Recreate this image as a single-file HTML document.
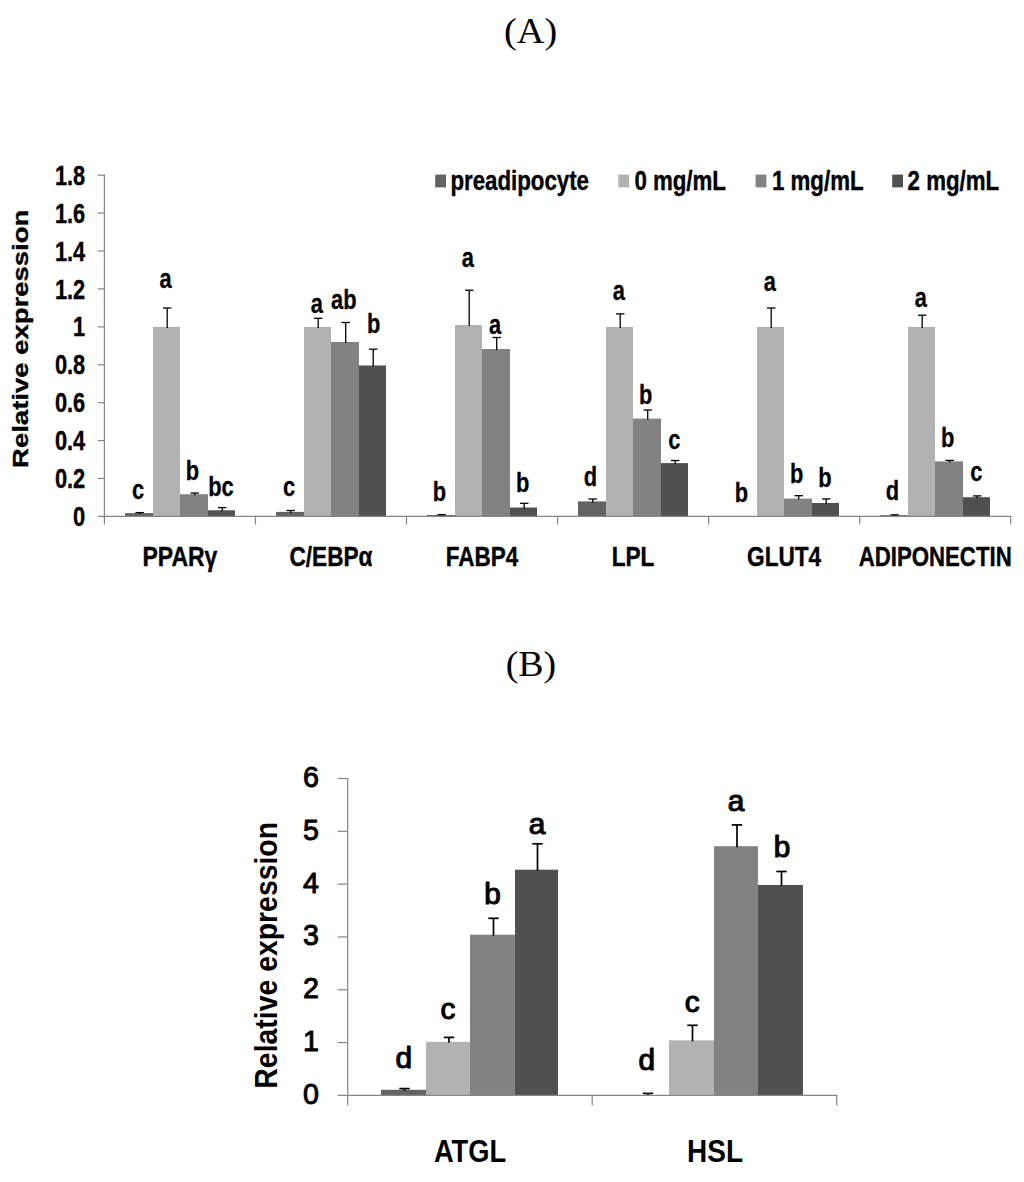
<!DOCTYPE html>
<html lang="en">
<head>
<meta charset="utf-8">
<title>Relative expression charts</title>
<style>
html, body { margin: 0; padding: 0; background: #ffffff; }
body { width: 1024px; height: 1182px; overflow: hidden; font-family: "Liberation Sans", sans-serif; }
svg { display: block; }
text { font-kerning: normal; }
</style>
</head>
<body>
<svg width="1024" height="1182" viewBox="0 0 1024 1182">
<rect x="0" y="0" width="1024" height="1182" fill="#ffffff"/>
<text transform="translate(530.60,43.30) scale(1.05,1)" font-family='"Liberation Serif", serif' font-size="36.4" font-weight="normal" text-anchor="middle" fill="#000"  >(A)</text>
<text transform="translate(531.00,676.40) scale(1.04,1)" font-family='"Liberation Serif", serif' font-size="36.4" font-weight="normal" text-anchor="middle" fill="#000"  >(B)</text>
<g id="chartA">
<rect x="125.00" y="513.10" width="28.00" height="3.30" fill="#636363"/>
<rect x="153.00" y="326.90" width="27.00" height="189.50" fill="#b2b2b2"/>
<rect x="180.00" y="494.20" width="28.00" height="22.20" fill="#828282"/>
<rect x="208.00" y="510.30" width="27.00" height="6.10" fill="#505050"/>
<rect x="276.00" y="511.90" width="28.00" height="4.50" fill="#636363"/>
<rect x="304.00" y="326.90" width="27.00" height="189.50" fill="#b2b2b2"/>
<rect x="331.00" y="342.00" width="28.00" height="174.40" fill="#828282"/>
<rect x="359.00" y="365.50" width="27.00" height="150.90" fill="#505050"/>
<rect x="427.00" y="515.00" width="28.00" height="1.40" fill="#636363"/>
<rect x="455.00" y="325.00" width="27.00" height="191.40" fill="#b2b2b2"/>
<rect x="482.00" y="349.00" width="28.00" height="167.40" fill="#828282"/>
<rect x="510.00" y="507.50" width="27.00" height="8.90" fill="#505050"/>
<rect x="578.00" y="501.40" width="28.00" height="15.00" fill="#636363"/>
<rect x="606.00" y="326.90" width="27.00" height="189.50" fill="#b2b2b2"/>
<rect x="633.00" y="418.60" width="28.00" height="97.80" fill="#828282"/>
<rect x="661.00" y="463.10" width="27.00" height="53.30" fill="#505050"/>
<rect x="757.00" y="326.90" width="27.00" height="189.50" fill="#b2b2b2"/>
<rect x="784.00" y="498.60" width="28.00" height="17.80" fill="#828282"/>
<rect x="812.00" y="503.00" width="27.00" height="13.40" fill="#505050"/>
<rect x="880.00" y="515.20" width="28.00" height="1.20" fill="#636363"/>
<rect x="908.00" y="326.90" width="27.00" height="189.50" fill="#b2b2b2"/>
<rect x="935.00" y="461.40" width="28.00" height="55.00" fill="#828282"/>
<rect x="963.00" y="497.20" width="27.00" height="19.20" fill="#505050"/>
<line x1="139.70" y1="512.60" x2="139.70" y2="514.10" stroke="#000" stroke-width="1.3"/>
<line x1="135.50" y1="512.60" x2="143.90" y2="512.60" stroke="#000" stroke-width="1.3"/>
<line x1="167.20" y1="308.00" x2="167.20" y2="327.90" stroke="#000" stroke-width="1.3"/>
<line x1="163.00" y1="308.00" x2="171.40" y2="308.00" stroke="#000" stroke-width="1.3"/>
<line x1="194.70" y1="493.00" x2="194.70" y2="495.20" stroke="#000" stroke-width="1.3"/>
<line x1="190.50" y1="493.00" x2="198.90" y2="493.00" stroke="#000" stroke-width="1.3"/>
<line x1="222.20" y1="507.60" x2="222.20" y2="511.30" stroke="#000" stroke-width="1.3"/>
<line x1="218.00" y1="507.60" x2="226.40" y2="507.60" stroke="#000" stroke-width="1.3"/>
<line x1="290.70" y1="510.50" x2="290.70" y2="512.90" stroke="#000" stroke-width="1.3"/>
<line x1="286.50" y1="510.50" x2="294.90" y2="510.50" stroke="#000" stroke-width="1.3"/>
<line x1="318.20" y1="318.30" x2="318.20" y2="327.90" stroke="#000" stroke-width="1.3"/>
<line x1="314.00" y1="318.30" x2="322.40" y2="318.30" stroke="#000" stroke-width="1.3"/>
<line x1="345.70" y1="322.50" x2="345.70" y2="343.00" stroke="#000" stroke-width="1.3"/>
<line x1="341.50" y1="322.50" x2="349.90" y2="322.50" stroke="#000" stroke-width="1.3"/>
<line x1="373.20" y1="349.20" x2="373.20" y2="366.50" stroke="#000" stroke-width="1.3"/>
<line x1="369.00" y1="349.20" x2="377.40" y2="349.20" stroke="#000" stroke-width="1.3"/>
<line x1="441.70" y1="514.60" x2="441.70" y2="516.00" stroke="#000" stroke-width="1.3"/>
<line x1="437.50" y1="514.60" x2="445.90" y2="514.60" stroke="#000" stroke-width="1.3"/>
<line x1="469.20" y1="290.20" x2="469.20" y2="326.00" stroke="#000" stroke-width="1.3"/>
<line x1="465.00" y1="290.20" x2="473.40" y2="290.20" stroke="#000" stroke-width="1.3"/>
<line x1="496.70" y1="337.50" x2="496.70" y2="350.00" stroke="#000" stroke-width="1.3"/>
<line x1="492.50" y1="337.50" x2="500.90" y2="337.50" stroke="#000" stroke-width="1.3"/>
<line x1="524.20" y1="503.30" x2="524.20" y2="508.50" stroke="#000" stroke-width="1.3"/>
<line x1="520.00" y1="503.30" x2="528.40" y2="503.30" stroke="#000" stroke-width="1.3"/>
<line x1="592.70" y1="499.00" x2="592.70" y2="502.40" stroke="#000" stroke-width="1.3"/>
<line x1="588.50" y1="499.00" x2="596.90" y2="499.00" stroke="#000" stroke-width="1.3"/>
<line x1="620.20" y1="313.90" x2="620.20" y2="327.90" stroke="#000" stroke-width="1.3"/>
<line x1="616.00" y1="313.90" x2="624.40" y2="313.90" stroke="#000" stroke-width="1.3"/>
<line x1="647.70" y1="410.00" x2="647.70" y2="419.60" stroke="#000" stroke-width="1.3"/>
<line x1="643.50" y1="410.00" x2="651.90" y2="410.00" stroke="#000" stroke-width="1.3"/>
<line x1="675.20" y1="460.50" x2="675.20" y2="464.10" stroke="#000" stroke-width="1.3"/>
<line x1="671.00" y1="460.50" x2="679.40" y2="460.50" stroke="#000" stroke-width="1.3"/>
<line x1="771.20" y1="308.00" x2="771.20" y2="327.90" stroke="#000" stroke-width="1.3"/>
<line x1="767.00" y1="308.00" x2="775.40" y2="308.00" stroke="#000" stroke-width="1.3"/>
<line x1="798.70" y1="495.70" x2="798.70" y2="499.60" stroke="#000" stroke-width="1.3"/>
<line x1="794.50" y1="495.70" x2="802.90" y2="495.70" stroke="#000" stroke-width="1.3"/>
<line x1="826.20" y1="498.90" x2="826.20" y2="504.00" stroke="#000" stroke-width="1.3"/>
<line x1="822.00" y1="498.90" x2="830.40" y2="498.90" stroke="#000" stroke-width="1.3"/>
<line x1="894.70" y1="514.80" x2="894.70" y2="516.20" stroke="#000" stroke-width="1.3"/>
<line x1="890.50" y1="514.80" x2="898.90" y2="514.80" stroke="#000" stroke-width="1.3"/>
<line x1="922.20" y1="315.20" x2="922.20" y2="327.90" stroke="#000" stroke-width="1.3"/>
<line x1="918.00" y1="315.20" x2="926.40" y2="315.20" stroke="#000" stroke-width="1.3"/>
<line x1="949.70" y1="460.40" x2="949.70" y2="462.40" stroke="#000" stroke-width="1.3"/>
<line x1="945.50" y1="460.40" x2="953.90" y2="460.40" stroke="#000" stroke-width="1.3"/>
<line x1="977.20" y1="495.90" x2="977.20" y2="498.20" stroke="#000" stroke-width="1.3"/>
<line x1="973.00" y1="495.90" x2="981.40" y2="495.90" stroke="#000" stroke-width="1.3"/>
<line x1="104.40" y1="174.60" x2="104.40" y2="524.40" stroke="#868686" stroke-width="1.2"/>
<line x1="97.80" y1="516.40" x2="1011.30" y2="516.40" stroke="#868686" stroke-width="1.2"/>
<text transform="translate(85.20,526.00) scale(0.768,1)" font-family='"Liberation Sans", sans-serif' font-size="28.4" font-weight="bold" text-anchor="end" fill="#000" stroke="#000" stroke-width="0.4" stroke-linejoin="round" >0</text>
<line x1="97.80" y1="478.49" x2="104.40" y2="478.49" stroke="#868686" stroke-width="1.2"/>
<text transform="translate(85.20,488.09) scale(0.768,1)" font-family='"Liberation Sans", sans-serif' font-size="28.4" font-weight="bold" text-anchor="end" fill="#000" stroke="#000" stroke-width="0.4" stroke-linejoin="round" >0.2</text>
<line x1="97.80" y1="440.58" x2="104.40" y2="440.58" stroke="#868686" stroke-width="1.2"/>
<text transform="translate(85.20,450.18) scale(0.768,1)" font-family='"Liberation Sans", sans-serif' font-size="28.4" font-weight="bold" text-anchor="end" fill="#000" stroke="#000" stroke-width="0.4" stroke-linejoin="round" >0.4</text>
<line x1="97.80" y1="402.67" x2="104.40" y2="402.67" stroke="#868686" stroke-width="1.2"/>
<text transform="translate(85.20,412.27) scale(0.768,1)" font-family='"Liberation Sans", sans-serif' font-size="28.4" font-weight="bold" text-anchor="end" fill="#000" stroke="#000" stroke-width="0.4" stroke-linejoin="round" >0.6</text>
<line x1="97.80" y1="364.76" x2="104.40" y2="364.76" stroke="#868686" stroke-width="1.2"/>
<text transform="translate(85.20,374.36) scale(0.768,1)" font-family='"Liberation Sans", sans-serif' font-size="28.4" font-weight="bold" text-anchor="end" fill="#000" stroke="#000" stroke-width="0.4" stroke-linejoin="round" >0.8</text>
<line x1="97.80" y1="326.84" x2="104.40" y2="326.84" stroke="#868686" stroke-width="1.2"/>
<text transform="translate(85.20,336.44) scale(0.768,1)" font-family='"Liberation Sans", sans-serif' font-size="28.4" font-weight="bold" text-anchor="end" fill="#000" stroke="#000" stroke-width="0.4" stroke-linejoin="round" >1</text>
<line x1="97.80" y1="288.93" x2="104.40" y2="288.93" stroke="#868686" stroke-width="1.2"/>
<text transform="translate(85.20,298.53) scale(0.768,1)" font-family='"Liberation Sans", sans-serif' font-size="28.4" font-weight="bold" text-anchor="end" fill="#000" stroke="#000" stroke-width="0.4" stroke-linejoin="round" >1.2</text>
<line x1="97.80" y1="251.02" x2="104.40" y2="251.02" stroke="#868686" stroke-width="1.2"/>
<text transform="translate(85.20,260.62) scale(0.768,1)" font-family='"Liberation Sans", sans-serif' font-size="28.4" font-weight="bold" text-anchor="end" fill="#000" stroke="#000" stroke-width="0.4" stroke-linejoin="round" >1.4</text>
<line x1="97.80" y1="213.11" x2="104.40" y2="213.11" stroke="#868686" stroke-width="1.2"/>
<text transform="translate(85.20,222.71) scale(0.768,1)" font-family='"Liberation Sans", sans-serif' font-size="28.4" font-weight="bold" text-anchor="end" fill="#000" stroke="#000" stroke-width="0.4" stroke-linejoin="round" >1.6</text>
<line x1="97.80" y1="175.20" x2="104.40" y2="175.20" stroke="#868686" stroke-width="1.2"/>
<text transform="translate(85.20,184.80) scale(0.768,1)" font-family='"Liberation Sans", sans-serif' font-size="28.4" font-weight="bold" text-anchor="end" fill="#000" stroke="#000" stroke-width="0.4" stroke-linejoin="round" >1.8</text>
<line x1="255.45" y1="516.40" x2="255.45" y2="524.40" stroke="#868686" stroke-width="1.2"/>
<line x1="406.50" y1="516.40" x2="406.50" y2="524.40" stroke="#868686" stroke-width="1.2"/>
<line x1="557.55" y1="516.40" x2="557.55" y2="524.40" stroke="#868686" stroke-width="1.2"/>
<line x1="708.60" y1="516.40" x2="708.60" y2="524.40" stroke="#868686" stroke-width="1.2"/>
<line x1="859.65" y1="516.40" x2="859.65" y2="524.40" stroke="#868686" stroke-width="1.2"/>
<line x1="1010.70" y1="516.40" x2="1010.70" y2="524.40" stroke="#868686" stroke-width="1.2"/>
<text transform="translate(179.93,566.00) scale(0.812,1)" font-family='"Liberation Sans", sans-serif' font-size="28.3" font-weight="bold" text-anchor="middle" fill="#000" stroke="#000" stroke-width="0.4" stroke-linejoin="round" >PPAR&#947;</text>
<text transform="translate(330.98,566.00) scale(0.8,1)" font-family='"Liberation Sans", sans-serif' font-size="28.3" font-weight="bold" text-anchor="middle" fill="#000" stroke="#000" stroke-width="0.4" stroke-linejoin="round" >C/EBP&#945;</text>
<text transform="translate(482.02,566.00) scale(0.795,1)" font-family='"Liberation Sans", sans-serif' font-size="28.3" font-weight="bold" text-anchor="middle" fill="#000" stroke="#000" stroke-width="0.4" stroke-linejoin="round" >FABP4</text>
<text transform="translate(633.08,566.00) scale(0.8,1)" font-family='"Liberation Sans", sans-serif' font-size="28.3" font-weight="bold" text-anchor="middle" fill="#000" stroke="#000" stroke-width="0.4" stroke-linejoin="round" >LPL</text>
<text transform="translate(784.12,566.00) scale(0.8,1)" font-family='"Liberation Sans", sans-serif' font-size="28.3" font-weight="bold" text-anchor="middle" fill="#000" stroke="#000" stroke-width="0.4" stroke-linejoin="round" >GLUT4</text>
<text transform="translate(935.18,566.00) scale(0.785,1)" font-family='"Liberation Sans", sans-serif' font-size="28.3" font-weight="bold" text-anchor="middle" fill="#000" stroke="#000" stroke-width="0.4" stroke-linejoin="round" >ADIPONECTIN</text>
<text transform="translate(138.00,499.40) scale(0.78,1)" font-family='"Liberation Sans", sans-serif' font-size="28" font-weight="bold" text-anchor="middle" fill="#000" stroke="#000" stroke-width="0.3" stroke-linejoin="round" >c</text>
<text transform="translate(165.60,287.70) scale(0.78,1)" font-family='"Liberation Sans", sans-serif' font-size="28" font-weight="bold" text-anchor="middle" fill="#000" stroke="#000" stroke-width="0.3" stroke-linejoin="round" >a</text>
<text transform="translate(192.50,479.80) scale(0.78,1)" font-family='"Liberation Sans", sans-serif' font-size="28" font-weight="bold" text-anchor="middle" fill="#000" stroke="#000" stroke-width="0.3" stroke-linejoin="round" >b</text>
<text transform="translate(220.90,496.25) scale(0.78,1)" font-family='"Liberation Sans", sans-serif' font-size="28" font-weight="bold" text-anchor="middle" fill="#000" stroke="#000" stroke-width="0.3" stroke-linejoin="round" >bc</text>
<text transform="translate(289.00,496.25) scale(0.78,1)" font-family='"Liberation Sans", sans-serif' font-size="28" font-weight="bold" text-anchor="middle" fill="#000" stroke="#000" stroke-width="0.3" stroke-linejoin="round" >c</text>
<text transform="translate(316.90,312.80) scale(0.78,1)" font-family='"Liberation Sans", sans-serif' font-size="28" font-weight="bold" text-anchor="middle" fill="#000" stroke="#000" stroke-width="0.3" stroke-linejoin="round" >a</text>
<text transform="translate(343.80,308.60) scale(0.78,1)" font-family='"Liberation Sans", sans-serif' font-size="28" font-weight="bold" text-anchor="middle" fill="#000" stroke="#000" stroke-width="0.3" stroke-linejoin="round" >ab</text>
<text transform="translate(373.70,333.10) scale(0.78,1)" font-family='"Liberation Sans", sans-serif' font-size="28" font-weight="bold" text-anchor="middle" fill="#000" stroke="#000" stroke-width="0.3" stroke-linejoin="round" >b</text>
<text transform="translate(439.40,500.60) scale(0.78,1)" font-family='"Liberation Sans", sans-serif' font-size="28" font-weight="bold" text-anchor="middle" fill="#000" stroke="#000" stroke-width="0.3" stroke-linejoin="round" >b</text>
<text transform="translate(467.90,267.20) scale(0.78,1)" font-family='"Liberation Sans", sans-serif' font-size="28" font-weight="bold" text-anchor="middle" fill="#000" stroke="#000" stroke-width="0.3" stroke-linejoin="round" >a</text>
<text transform="translate(495.00,334.40) scale(0.78,1)" font-family='"Liberation Sans", sans-serif' font-size="28" font-weight="bold" text-anchor="middle" fill="#000" stroke="#000" stroke-width="0.3" stroke-linejoin="round" >a</text>
<text transform="translate(522.60,491.60) scale(0.78,1)" font-family='"Liberation Sans", sans-serif' font-size="28" font-weight="bold" text-anchor="middle" fill="#000" stroke="#000" stroke-width="0.3" stroke-linejoin="round" >b</text>
<text transform="translate(590.40,485.50) scale(0.78,1)" font-family='"Liberation Sans", sans-serif' font-size="28" font-weight="bold" text-anchor="middle" fill="#000" stroke="#000" stroke-width="0.3" stroke-linejoin="round" >d</text>
<text transform="translate(618.80,299.80) scale(0.78,1)" font-family='"Liberation Sans", sans-serif' font-size="28" font-weight="bold" text-anchor="middle" fill="#000" stroke="#000" stroke-width="0.3" stroke-linejoin="round" >a</text>
<text transform="translate(645.60,404.20) scale(0.78,1)" font-family='"Liberation Sans", sans-serif' font-size="28" font-weight="bold" text-anchor="middle" fill="#000" stroke="#000" stroke-width="0.3" stroke-linejoin="round" >b</text>
<text transform="translate(674.30,449.20) scale(0.78,1)" font-family='"Liberation Sans", sans-serif' font-size="28" font-weight="bold" text-anchor="middle" fill="#000" stroke="#000" stroke-width="0.3" stroke-linejoin="round" >c</text>
<text transform="translate(741.40,502.00) scale(0.78,1)" font-family='"Liberation Sans", sans-serif' font-size="28" font-weight="bold" text-anchor="middle" fill="#000" stroke="#000" stroke-width="0.3" stroke-linejoin="round" >b</text>
<text transform="translate(769.80,290.80) scale(0.78,1)" font-family='"Liberation Sans", sans-serif' font-size="28" font-weight="bold" text-anchor="middle" fill="#000" stroke="#000" stroke-width="0.3" stroke-linejoin="round" >a</text>
<text transform="translate(796.60,482.50) scale(0.78,1)" font-family='"Liberation Sans", sans-serif' font-size="28" font-weight="bold" text-anchor="middle" fill="#000" stroke="#000" stroke-width="0.3" stroke-linejoin="round" >b</text>
<text transform="translate(824.80,486.90) scale(0.78,1)" font-family='"Liberation Sans", sans-serif' font-size="28" font-weight="bold" text-anchor="middle" fill="#000" stroke="#000" stroke-width="0.3" stroke-linejoin="round" >b</text>
<text transform="translate(892.40,500.00) scale(0.78,1)" font-family='"Liberation Sans", sans-serif' font-size="28" font-weight="bold" text-anchor="middle" fill="#000" stroke="#000" stroke-width="0.3" stroke-linejoin="round" >d</text>
<text transform="translate(920.80,306.90) scale(0.78,1)" font-family='"Liberation Sans", sans-serif' font-size="28" font-weight="bold" text-anchor="middle" fill="#000" stroke="#000" stroke-width="0.3" stroke-linejoin="round" >a</text>
<text transform="translate(947.60,446.90) scale(0.78,1)" font-family='"Liberation Sans", sans-serif' font-size="28" font-weight="bold" text-anchor="middle" fill="#000" stroke="#000" stroke-width="0.3" stroke-linejoin="round" >b</text>
<text transform="translate(976.30,481.25) scale(0.78,1)" font-family='"Liberation Sans", sans-serif' font-size="28" font-weight="bold" text-anchor="middle" fill="#000" stroke="#000" stroke-width="0.3" stroke-linejoin="round" >c</text>
<text transform="translate(28.0,338.8) rotate(-90) scale(1,0.83)" font-family='"Liberation Sans", sans-serif' font-size="27.5" font-weight="bold" text-anchor="middle" stroke="#000" stroke-width="0.4">Relative expression</text>
<rect x="435.20" y="174.60" width="10.80" height="12.80" fill="#636363"/>
<text transform="translate(450.40,189.90) scale(0.81,1)" font-family='"Liberation Sans", sans-serif' font-size="27.5" font-weight="bold" text-anchor="start" fill="#000" stroke="#000" stroke-width="0.4" stroke-linejoin="round" >preadipocyte</text>
<rect x="618.30" y="174.60" width="10.80" height="12.80" fill="#b2b2b2"/>
<text transform="translate(634.40,189.90) scale(0.81,1)" font-family='"Liberation Sans", sans-serif' font-size="27.5" font-weight="bold" text-anchor="start" fill="#000" stroke="#000" stroke-width="0.4" stroke-linejoin="round" >0 mg/mL</text>
<rect x="755.60" y="174.60" width="10.80" height="12.80" fill="#828282"/>
<text transform="translate(772.00,189.90) scale(0.81,1)" font-family='"Liberation Sans", sans-serif' font-size="27.5" font-weight="bold" text-anchor="start" fill="#000" stroke="#000" stroke-width="0.4" stroke-linejoin="round" >1 mg/mL</text>
<rect x="892.20" y="174.60" width="10.80" height="12.80" fill="#505050"/>
<text transform="translate(907.60,189.90) scale(0.81,1)" font-family='"Liberation Sans", sans-serif' font-size="27.5" font-weight="bold" text-anchor="start" fill="#000" stroke="#000" stroke-width="0.4" stroke-linejoin="round" >2 mg/mL</text>
</g>
<g id="chartB">
<rect x="381.00" y="1089.80" width="45.00" height="5.60" fill="#636363"/>
<rect x="426.00" y="1041.80" width="44.00" height="53.60" fill="#b2b2b2"/>
<rect x="470.00" y="934.70" width="45.00" height="160.70" fill="#828282"/>
<rect x="515.00" y="869.70" width="43.00" height="225.70" fill="#505050"/>
<rect x="669.00" y="1040.30" width="45.00" height="55.10" fill="#b2b2b2"/>
<rect x="714.00" y="846.20" width="44.00" height="249.20" fill="#828282"/>
<rect x="758.00" y="885.00" width="45.00" height="210.40" fill="#505050"/>
<line x1="404.50" y1="1088.60" x2="404.50" y2="1090.80" stroke="#000" stroke-width="1.7"/>
<line x1="399.30" y1="1088.60" x2="409.70" y2="1088.60" stroke="#000" stroke-width="1.7"/>
<line x1="449.00" y1="1037.40" x2="449.00" y2="1042.80" stroke="#000" stroke-width="1.7"/>
<line x1="443.80" y1="1037.40" x2="454.20" y2="1037.40" stroke="#000" stroke-width="1.7"/>
<line x1="493.50" y1="918.30" x2="493.50" y2="935.70" stroke="#000" stroke-width="1.7"/>
<line x1="488.30" y1="918.30" x2="498.70" y2="918.30" stroke="#000" stroke-width="1.7"/>
<line x1="537.50" y1="843.80" x2="537.50" y2="870.70" stroke="#000" stroke-width="1.7"/>
<line x1="532.30" y1="843.80" x2="542.70" y2="843.80" stroke="#000" stroke-width="1.7"/>
<line x1="648.00" y1="1093.40" x2="648.00" y2="1095.60" stroke="#000" stroke-width="1.7"/>
<line x1="642.80" y1="1093.40" x2="653.20" y2="1093.40" stroke="#000" stroke-width="1.7"/>
<line x1="692.50" y1="1025.30" x2="692.50" y2="1041.30" stroke="#000" stroke-width="1.7"/>
<line x1="687.30" y1="1025.30" x2="697.70" y2="1025.30" stroke="#000" stroke-width="1.7"/>
<line x1="737.00" y1="824.90" x2="737.00" y2="847.20" stroke="#000" stroke-width="1.7"/>
<line x1="731.80" y1="824.90" x2="742.20" y2="824.90" stroke="#000" stroke-width="1.7"/>
<line x1="781.50" y1="871.50" x2="781.50" y2="886.00" stroke="#000" stroke-width="1.7"/>
<line x1="776.30" y1="871.50" x2="786.70" y2="871.50" stroke="#000" stroke-width="1.7"/>
<line x1="347.70" y1="777.90" x2="347.70" y2="1105.40" stroke="#868686" stroke-width="1.2"/>
<line x1="337.70" y1="1095.40" x2="837.30" y2="1095.40" stroke="#868686" stroke-width="1.2"/>
<text transform="translate(311.00,1103.90) scale(0.95,1)" font-family='"Liberation Sans", sans-serif' font-size="30.1" font-weight="normal" text-anchor="middle" fill="#000" stroke="#000" stroke-width="1.0" stroke-linejoin="round" >0</text>
<line x1="337.70" y1="1042.58" x2="347.70" y2="1042.58" stroke="#868686" stroke-width="1.2"/>
<text transform="translate(311.00,1051.08) scale(0.95,1)" font-family='"Liberation Sans", sans-serif' font-size="30.1" font-weight="normal" text-anchor="middle" fill="#000" stroke="#000" stroke-width="1.0" stroke-linejoin="round" >1</text>
<line x1="337.70" y1="989.77" x2="347.70" y2="989.77" stroke="#868686" stroke-width="1.2"/>
<text transform="translate(311.00,998.27) scale(0.95,1)" font-family='"Liberation Sans", sans-serif' font-size="30.1" font-weight="normal" text-anchor="middle" fill="#000" stroke="#000" stroke-width="1.0" stroke-linejoin="round" >2</text>
<line x1="337.70" y1="936.95" x2="347.70" y2="936.95" stroke="#868686" stroke-width="1.2"/>
<text transform="translate(311.00,945.45) scale(0.95,1)" font-family='"Liberation Sans", sans-serif' font-size="30.1" font-weight="normal" text-anchor="middle" fill="#000" stroke="#000" stroke-width="1.0" stroke-linejoin="round" >3</text>
<line x1="337.70" y1="884.13" x2="347.70" y2="884.13" stroke="#868686" stroke-width="1.2"/>
<text transform="translate(311.00,892.63) scale(0.95,1)" font-family='"Liberation Sans", sans-serif' font-size="30.1" font-weight="normal" text-anchor="middle" fill="#000" stroke="#000" stroke-width="1.0" stroke-linejoin="round" >4</text>
<line x1="337.70" y1="831.32" x2="347.70" y2="831.32" stroke="#868686" stroke-width="1.2"/>
<text transform="translate(311.00,839.82) scale(0.95,1)" font-family='"Liberation Sans", sans-serif' font-size="30.1" font-weight="normal" text-anchor="middle" fill="#000" stroke="#000" stroke-width="1.0" stroke-linejoin="round" >5</text>
<line x1="337.70" y1="778.50" x2="347.70" y2="778.50" stroke="#868686" stroke-width="1.2"/>
<text transform="translate(311.00,787.00) scale(0.95,1)" font-family='"Liberation Sans", sans-serif' font-size="30.1" font-weight="normal" text-anchor="middle" fill="#000" stroke="#000" stroke-width="1.0" stroke-linejoin="round" >6</text>
<line x1="592.20" y1="1095.40" x2="592.20" y2="1105.40" stroke="#868686" stroke-width="1.2"/>
<line x1="836.70" y1="1095.40" x2="836.70" y2="1105.40" stroke="#868686" stroke-width="1.2"/>
<text transform="translate(470.00,1161.60) scale(0.893,1)" font-family='"Liberation Sans", sans-serif' font-size="30.5" font-weight="bold" text-anchor="middle" fill="#000"  >ATGL</text>
<text transform="translate(715.00,1161.60) scale(0.918,1)" font-family='"Liberation Sans", sans-serif' font-size="30.5" font-weight="bold" text-anchor="middle" fill="#000"  >HSL</text>
<text transform="translate(403.80,1067.50) scale(1.04,1)" font-family='"Liberation Sans", sans-serif' font-size="28.6" font-weight="normal" text-anchor="middle" fill="#000" stroke="#000" stroke-width="1.1" stroke-linejoin="round" >d</text>
<text transform="translate(447.80,1019.20) scale(1.04,1)" font-family='"Liberation Sans", sans-serif' font-size="28.6" font-weight="normal" text-anchor="middle" fill="#000" stroke="#000" stroke-width="1.1" stroke-linejoin="round" >c</text>
<text transform="translate(492.40,903.60) scale(1.04,1)" font-family='"Liberation Sans", sans-serif' font-size="28.6" font-weight="normal" text-anchor="middle" fill="#000" stroke="#000" stroke-width="1.1" stroke-linejoin="round" >b</text>
<text transform="translate(537.00,833.70) scale(1.04,1)" font-family='"Liberation Sans", sans-serif' font-size="28.6" font-weight="normal" text-anchor="middle" fill="#000" stroke="#000" stroke-width="1.1" stroke-linejoin="round" >a</text>
<text transform="translate(646.70,1070.40) scale(1.04,1)" font-family='"Liberation Sans", sans-serif' font-size="28.6" font-weight="normal" text-anchor="middle" fill="#000" stroke="#000" stroke-width="1.1" stroke-linejoin="round" >d</text>
<text transform="translate(692.10,1011.50) scale(1.04,1)" font-family='"Liberation Sans", sans-serif' font-size="28.6" font-weight="normal" text-anchor="middle" fill="#000" stroke="#000" stroke-width="1.1" stroke-linejoin="round" >c</text>
<text transform="translate(736.10,811.00) scale(1.04,1)" font-family='"Liberation Sans", sans-serif' font-size="28.6" font-weight="normal" text-anchor="middle" fill="#000" stroke="#000" stroke-width="1.1" stroke-linejoin="round" >a</text>
<text transform="translate(782.10,856.70) scale(1.04,1)" font-family='"Liberation Sans", sans-serif' font-size="28.6" font-weight="normal" text-anchor="middle" fill="#000" stroke="#000" stroke-width="1.1" stroke-linejoin="round" >b</text>
<text transform="translate(277.2,955.3) rotate(-90) scale(1,1.08)" font-family='"Liberation Sans", sans-serif' font-size="28.4" font-weight="bold" text-anchor="middle">Relative expression</text>
</g>
</svg>
</body>
</html>
